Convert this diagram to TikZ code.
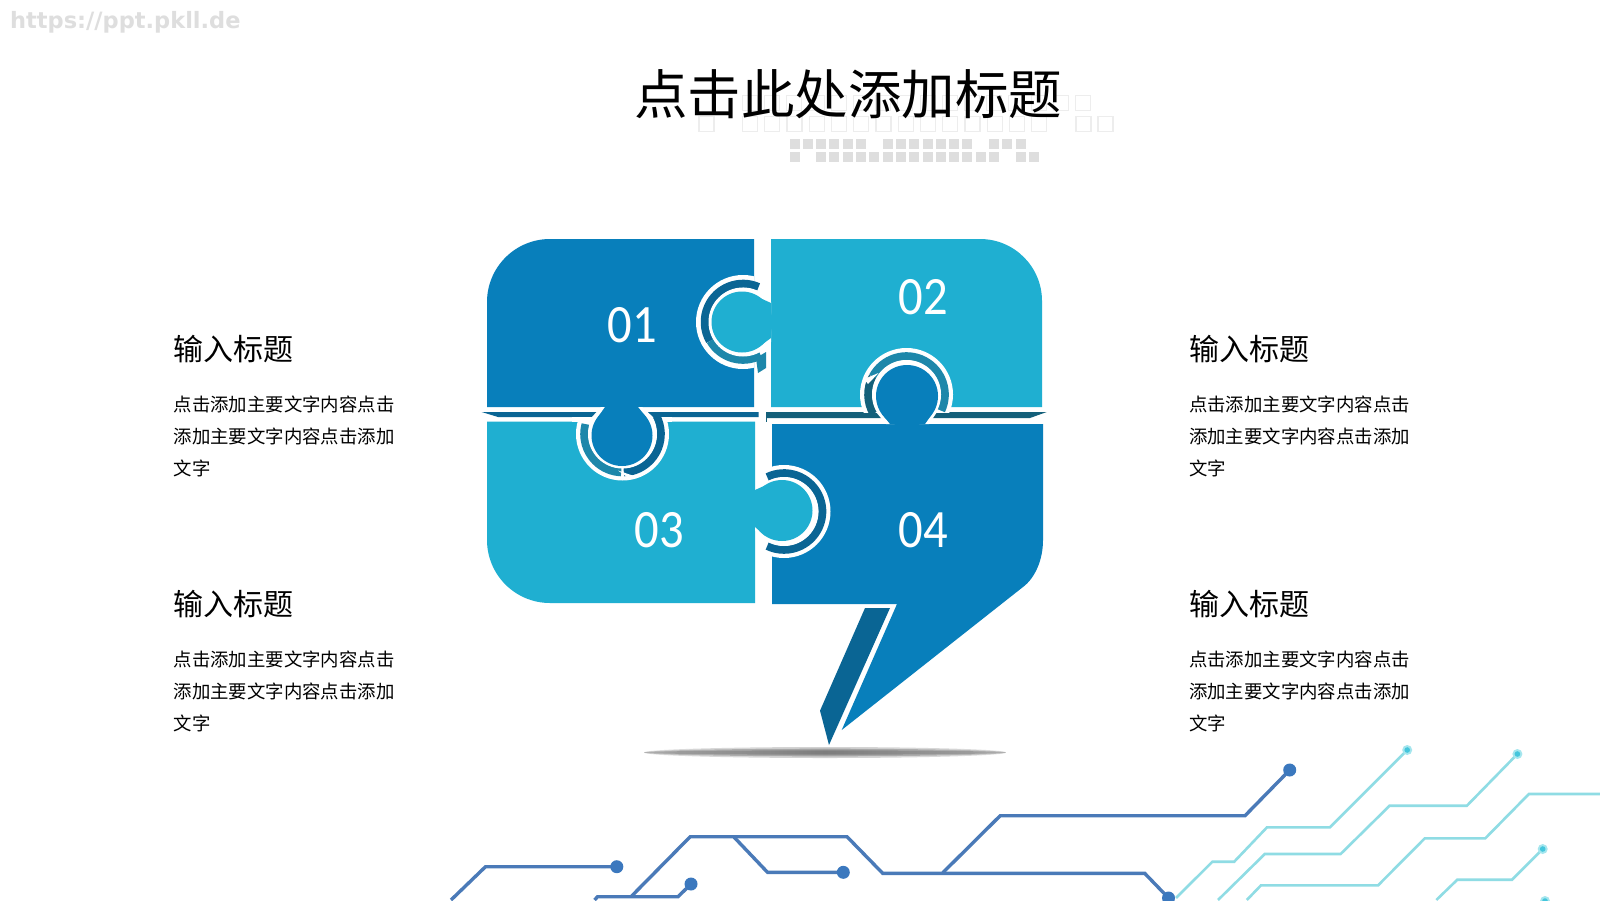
\documentclass[tikz,border=0pt]{standalone}
\usepackage{fontspec}
\setmainfont{Noto Sans CJK SC}
\newfontfamily\digitfont{Carlito}
\newfontfamily\urlfont{DejaVu Sans}
\definecolor{puzzleblue}{HTML}{087FBB}
\definecolor{puzzlecyan}{HTML}{1FAFD1}
\definecolor{ringdark}{HTML}{0A6594}
\definecolor{ringteal}{HTML}{1D87AA}
\definecolor{stripdark}{HTML}{14607A}
\definecolor{wireblue}{HTML}{4A7AB8}
\definecolor{dotblue}{HTML}{3B78BE}
\definecolor{wirecyan}{HTML}{8FDCE4}
\definecolor{dotcyan}{HTML}{45C6DC}
\definecolor{halocyan}{HTML}{A5E6EE}
\definecolor{gridgrey}{HTML}{DEDEDE}
\definecolor{gridline}{HTML}{EDEDED}
\pgfdeclarehorizontalshading{groundshade}{100bp}{
  color(0bp)=(white); color(12bp)=(black!8); color(30bp)=(black!46); color(50bp)=(black!60);
  color(70bp)=(black!46); color(88bp)=(black!8); color(100bp)=(white)}
\tikzset{
  headtext/.style={anchor=west,inner sep=0pt,font=\fontsize{30}{30}\selectfont},
  bodytext/.style={anchor=west,inner sep=0pt,align=left,font=\fontsize{18.4}{32}\selectfont},
  numtext/.style={inner sep=0pt,text=white,xscale=0.9,font=\digitfont\fontsize{54}{54}\selectfont},
  bluewire/.style={draw=wireblue,line width=3.4pt,line join=miter},
  cyanwire/.style={draw=wirecyan,line width=2.6pt,line join=miter},
  arcband/.style={line width=8pt}
}
% one arc of a ring: colour, centre x, centre y, radius, start angle, end angle
\newcommand{\ringarc}[6]{\draw[arcband,draw=#1] (#2,#3) ++(#5:#4) arc[start angle=#5,end angle=#6,radius=#4];}
\begin{document}
\begin{tikzpicture}[x=1pt,y=-1pt]
\useasboundingbox (0,0) rectangle (1600,900);
\fill[white] (0,0) rectangle (1600,900);
\clip (0,0) rectangle (1600,900);

% address line in the corner
\node[inner sep=0pt,anchor=west,text=gridgrey,font=\urlfont\bfseries\fontsize{22.5}{22.5}\selectfont] (url) at (10,22.5) {https://ppt.pkll.de};

% decorative squares behind the title
\foreach \k in {0,...,15} {\draw[gridline,line width=1pt] ({742.5+22.2*\k},95.5) rectangle +(15,15);}
\draw[gridline,line width=1.1pt] (699,116.5) rectangle +(15,15);
\foreach \k in {0,...,13} {\draw[gridline,line width=1.1pt] ({742.5+22.25*\k},116.5) rectangle +(15,15);}
\foreach \xx in {1076,1098} {\draw[gridline,line width=1.1pt] (\xx,116.5) rectangle +(15,15);}
\foreach \k in {0,...,5,7,8,9,10,11,12,13,15,16,17} {\fill[gridgrey] ({789.5+13.3*\k},138.5) rectangle +(10,10);}
\foreach \k in {0,2,3,...,15,17,18} {\fill[gridgrey] ({789.5+13.3*\k},152) rectangle +(10,9.5);}

\node[inner sep=0pt,font=\fontsize{53.5}{53.5}\selectfont] (title) at (848,94.5) {点击此处添加标题};

% left text column
\node[headtext] (headA) at (173.5,349.5) {输入标题};
\node[bodytext] (bodyA) at (173.5,436.3) {点击添加主要文字内容点击\\添加主要文字内容点击添加\\文字};
\node[headtext] (headC) at (173.5,604.5) {输入标题};
\node[bodytext] (bodyC) at (173.5,691.3) {点击添加主要文字内容点击\\添加主要文字内容点击添加\\文字};
% right text column
\node[headtext] (headB) at (1188.8,349.5) {输入标题};
\node[bodytext] (bodyB) at (1188.8,436.3) {点击添加主要文字内容点击\\添加主要文字内容点击添加\\文字};
\node[headtext] (headD) at (1188.8,604.5) {输入标题};
\node[bodytext] (bodyD) at (1188.8,691.3) {点击添加主要文字内容点击\\添加主要文字内容点击添加\\文字};

% ground shadow under the speech bubble, in soft layers
\foreach \ry/\op in {5.5/0.3,3.8/0.45,2.2/0.6} {
  \begin{scope}
  \clip (825,752.5) ellipse [x radius=181,y radius=\ry];
  \shade[shading=groundshade,opacity=\op] (644,746) rectangle (1006,759);
  \end{scope}
}

% puzzle pieces
\fill[puzzleblue] (487,407) -- (487,302) arc[start angle=180,end angle=270,radius=63] -- (754,239) -- (754,407) -- cycle;
\fill[puzzlecyan] (771,239) -- (980,239) arc[start angle=270,end angle=360,radius=62] -- (1042,407) -- (771,407) -- cycle;
\fill[puzzlecyan] (487,421.7) -- (755,421.7) -- (755,603) -- (550,603) arc[start angle=90,end angle=180,radius=63] -- cycle;
\fill[puzzleblue] (772,424) -- (1043,424) -- (1043,540) .. controls (1043,560) and (1035,578) .. (1023,587)
  -- (841.7,730) -- (897,604) -- (772,604) -- cycle;
% pointer of the bubble
\fill[ringdark] (865,608) -- (890,608) -- (829,745) -- (820,710.7) -- cycle;

% strips along the horizontal seam
\fill[ringdark] (481.7,412) -- (758.7,412) -- (758.7,417) -- (498,417) -- cycle;
\fill[stripdark] (766,412) -- (1046.7,412) -- (1030,418) -- (766,418) -- cycle;
\fill[stripdark] (765.5,412) rectangle (767,421.7);

% socket in piece 01, holding the tab of piece 02
\begin{scope}
\clip (680,260) rectangle (754,380);
\fill[white] (743,322) circle[radius=47];
\end{scope}
\ringarc{ringdark}{743}{322}{38.3}{294}{150}
\ringarc{ringteal}{743}{322}{37.8}{150}{62}
\fill[ringteal] (756,358) -- (766,352) -- (766,368) -- (758,373) -- cycle;
\begin{scope}
\clip (700,280) rectangle (771,365);
\fill[white] (743,322) circle[radius=34.5];
\end{scope}
\fill[puzzlecyan] (742,322) circle[radius=30.5];
\fill[puzzlecyan] (760,298) -- (771,303) -- (771,338) -- (760,346) -- cycle;

% socket in piece 02, holding the tab of piece 04
\begin{scope}
\clip (850,340) rectangle (960,412);
\fill[white] (906.5,394.5) circle[radius=46.5];
\end{scope}
\ringarc{ringteal}{906.5}{394.5}{38.3}{208}{385}
\ringarc{stripdark}{906.5}{394.5}{38.3}{208}{150}
\fill[white] (878.5,373) -- (864,379) -- (868,384) -- cycle;
\begin{scope}
\clip (860,350) rectangle (950,412);
\fill[white] (906.5,394.5) circle[radius=34.5];
\end{scope}
\fill[white] (876,412) -- (886,424) -- (929,424) -- (937,412) -- cycle;
\fill[puzzleblue] (907,396) circle[radius=31];
\fill[puzzleblue] (882,414) -- (890,424) -- (925,424) -- (932,414) -- cycle;

% socket in piece 03, holding the tab of piece 01
\begin{scope}
\clip (570,421.7) rectangle (675,490);
\fill[white] (622.5,434) circle[radius=46.5];
\end{scope}
\fill[white] (572,417) rectangle (672,421.7);
\ringarc{ringteal}{622.5}{434}{38.3}{195}{92}
\ringarc{ringdark}{622.5}{434}{38.3}{88}{-28}
\fill[white] (618,470.5) -- (634,476) -- (627,477) -- cycle;
\begin{scope}
\clip (580,417) rectangle (665,480);
\fill[white] (622.5,434) circle[radius=34.5];
\end{scope}
\fill[white] (592,417) -- (601,407) -- (642,407) -- (653,417) -- cycle;
\fill[puzzleblue] (622,435.5) circle[radius=30.5];
\fill[puzzleblue] (598,417) -- (605,407) -- (638,407) -- (646,417) -- cycle;

% socket in piece 04, holding the tab of piece 03
\begin{scope}
\clip (772,460) rectangle (835,565);
\fill[white] (784,511.5) circle[radius=46.5];
\end{scope}
\ringarc{ringdark}{784}{511.5}{38.3}{-116}{116}
\begin{scope}
\clip (755,470) rectangle (825,555);
\fill[white] (784,511.5) circle[radius=34.5];
\end{scope}
\fill[puzzlecyan] (782,510.5) circle[radius=30.5];
\fill[puzzlecyan] (765,485.5) -- (755,490) -- (755,527) -- (765,535.5) -- cycle;

% piece numbers
\node[numtext] (n1) at (632,325) {01};
\node[numtext] (n2) at (923,297) {02};
\node[numtext] (n3) at (659.5,530) {03};
\node[numtext] (n4) at (923,530.5) {04};

% circuit traces, dark group
\coordinate (dotA) at (616.8,866.7);
\coordinate (dotB) at (843.3,872.3);
\coordinate (dotC) at (691,884);
\coordinate (dotD) at (1168.5,898);
\coordinate (dotE) at (1289.7,770);
\path[bluewire] (451,900) -- (485.5,866.7) -- (dotA);
\path[bluewire] (631,896.7) -- (690.2,836.7) -- (847,836.7) -- (882.7,873.3) -- (1144.7,873.3) -- (dotD);
\path[bluewire] (734.2,837.3) -- (767.5,872.3) -- (dotB);
\path[bluewire] (594.6,900) -- (597.5,896.7) -- (678,896.7) -- (dotC);
\path[bluewire] (942.8,872.7) -- (1000.2,815.7) -- (1245,815.7) -- (dotE);
\foreach \d in {dotA,dotB,dotC,dotD,dotE} {\fill[dotblue] (\d) circle[radius=6.5];}

% circuit traces, light group
\coordinate (dotF) at (1407.2,750);
\coordinate (dotG) at (1517.4,754);
\coordinate (dotH) at (1542.7,849);
\coordinate (dotI) at (1545,901);
\path[cyanwire] (1176,898) -- (1212.4,861.7) -- (1234.2,861.7) -- (1267,827.3) -- (1329.9,827.3) -- (dotF);
\path[cyanwire] (1218,900) -- (1264.8,854) -- (1340.6,854) -- (1389.6,805.7) -- (1466.9,805.7) -- (dotG);
\path[cyanwire] (1246.8,900) -- (1261,885.3) -- (1378.1,885.3) -- (1424.8,838.3) -- (1485.3,838.3) -- (1528.9,794) -- (1600,794);
\path[cyanwire] (1436.3,900) -- (1457.3,879.7) -- (1512,879.7) -- (dotH);
\foreach \d in {dotF,dotG,dotH,dotI} {\fill[halocyan] (\d) circle[radius=5];\fill[dotcyan] (\d) circle[radius=2.8];}
\end{tikzpicture}
\end{document}
